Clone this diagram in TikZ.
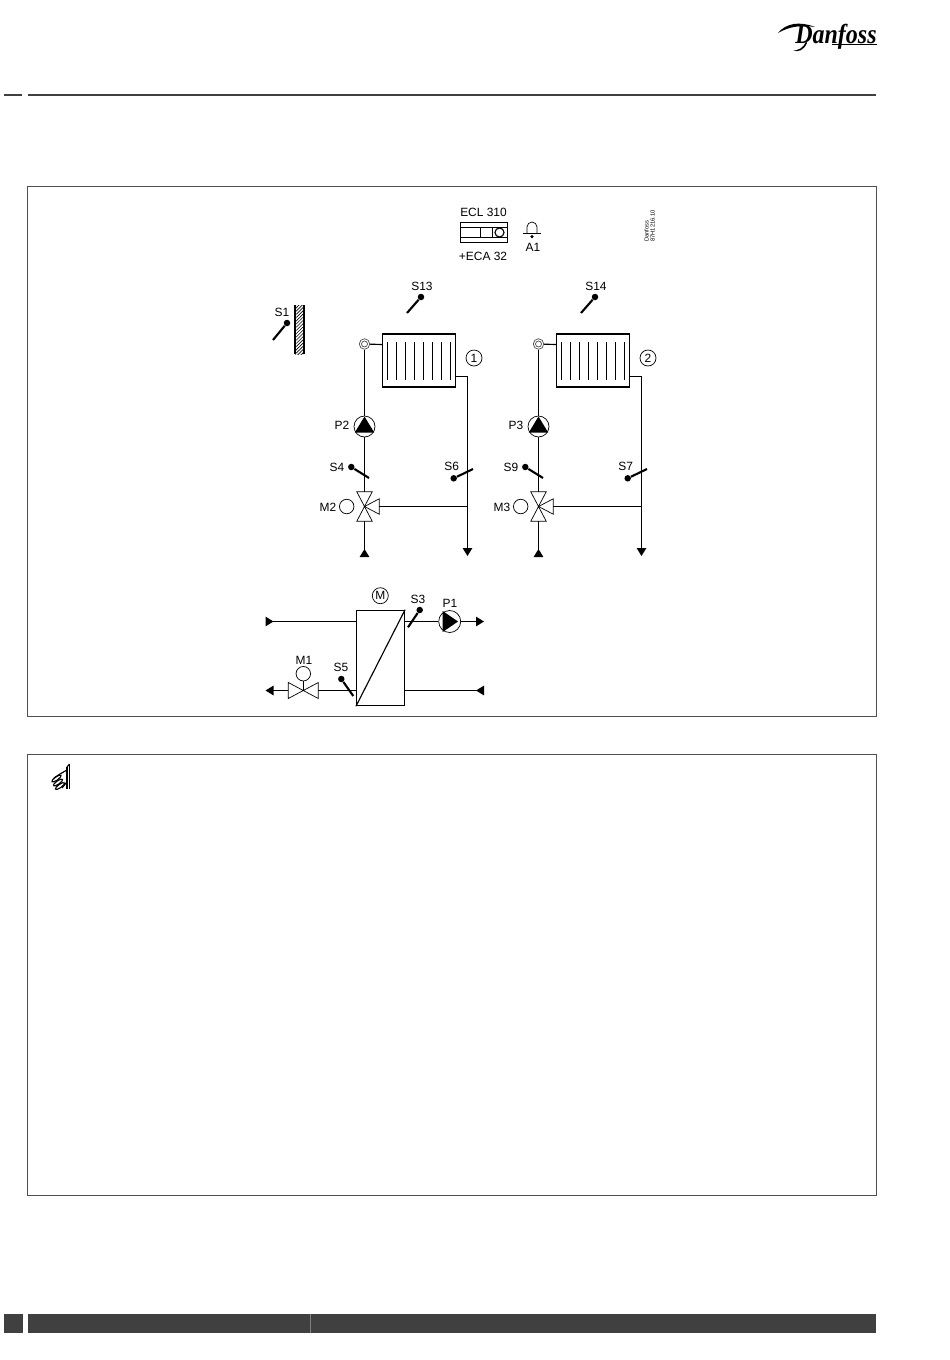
\documentclass[tikz,border=0pt]{standalone}
\usepackage{fontspec}
\setmainfont{Liberation Sans}
\newfontfamily\logofont{Liberation Serif}
\usetikzlibrary{arrows.meta, patterns.meta}
\definecolor{barGrey}{HTML}{404040}
\definecolor{frameGrey}{HTML}{505050}
\tikzset{
	pipe/.style = {line width = 0.65pt},
	thinline/.style = {line width = 0.4pt},
	sensor/.style = {line width = 1.2pt},
	sensordot/.style = {circle, fill, inner sep = 0pt, minimum size = 0.13cm},
	tag/.style = {font = \fontsize{6.8}{8}\selectfont, inner sep = 0pt},
	ring/.style = {circle, draw, thinline, inner sep = 0pt, minimum size = 0.29cm},
	numring/.style = {circle, draw, thinline, inner sep = 0pt, minimum size = 0.32cm, font = \fontsize{6.8}{8}\selectfont},
	pumpbody/.style = {circle, draw, thinline, inner sep = 0pt, minimum size = 0.42cm},
	tipdown/.style = {-{Triangle[length = 0.16cm, width = 0.19cm]}},
	tipback/.style = {-{Triangle[reversed, length = 0.16cm, width = 0.19cm]}},
	tipbackstart/.style = {{Triangle[reversed, length = 0.16cm, width = 0.19cm]}-}
}
\begin{document}
\begin{tikzpicture}[x = 0.02cm, y = -0.02cm]
	\useasboundingbox (0, 0) rectangle (950, 1360);

	% page furniture
	\fill[barGrey] (4, 94) rectangle (22, 96);
	\fill[barGrey] (28, 94) rectangle (876, 96);
	\fill[barGrey] (4, 1314) rectangle (23, 1333);
	\fill[barGrey] (28, 1314) rectangle (876, 1333);
	\draw[gray, line width = 0.6pt] (310.5, 1314) -- (310.5, 1333);
	\draw[frameGrey, thinline] (27.5, 186.5) rectangle (876.5, 716.5);
	\draw[frameGrey, thinline] (27.5, 754.5) rectangle (876.5, 1195.5);

	% logo
	\node[anchor = base east, inner sep = 0pt, yscale = 1.2, xscale = 1.05, font = \logofont\fontsize{13}{14}\bfseries\itshape\selectfont] (logo) at (877, 43) {Danfoss};
	\fill (778, 33) .. controls (786, 23) and (800, 21) .. (815, 27) .. controls (802, 25) and (790, 26) .. (778, 33);
	\fill (793, 50) .. controls (798, 51) and (803, 48) .. (806, 42) -- (807, 43) .. controls (804, 50) and (798, 53) .. (793, 50);
	\draw[line width = 0.7pt] (832, 44.5) -- (877, 44.5);

	% pointing hand
	\draw[pipe] (67, 767) -- (67, 789);
	\draw[pipe] (69.5, 764) -- (69.5, 789);
	\draw[pipe] (67, 767) -- (69.5, 764);
	\draw[pipe] (67, 770) -- (60, 774) -- (54, 778);
	\draw[pipe] (67, 782) -- (62, 788);
	\foreach \fx/\fy in {56.5/778.5, 58/782.5, 60/786}{
		\draw[pipe, rotate around = {35 : (\fx, \fy)}] (\fx, \fy) ellipse [x radius = 5.5, y radius = 1.7];
	}

	% controller and alarm
	\node[tag] (eclLabel) at (483.5, 212) {ECL 310};
	\node[tag] (ecaLabel) at (483, 256) {+ECA 32};
	\draw[pipe] (460.5, 222.5) rectangle (507.5, 242.5);
	\draw[pipe] (460.5, 227.5) -- (507.5, 227.5);
	\draw[pipe] (460.5, 237.5) -- (507.5, 237.5);
	\draw[pipe] (480.5, 227.5) -- (480.5, 237.5);
	\draw[pipe] (492.5, 227.5) -- (492.5, 237.5);
	\draw[pipe] (499.5, 232.5) circle [radius = 4.5];

	\draw[thinline] (527, 233) -- (527, 227) arc [start angle = 180, end angle = 360, radius = 5] -- (537, 233);
	\draw[pipe] (523, 233.5) -- (541, 233.5);
	\node[sensordot, minimum size = 0.07cm] (alarmDot) at (532, 236.5) {};
	\node[tag] (alarmLabel) at (533, 247) {A1};

	\node[rotate = 90, anchor = north west, align = left, inner sep = 0pt, font = \fontsize{3.3}{3.4}\selectfont] (drawingRef) at (644, 242) {Danfoss\\87H1216.10};

	% outdoor sensor
	\fill[pattern = {Lines[angle = 45, distance = 1.3pt, line width = 0.35pt]}] (295, 305) rectangle (304, 354);
	\draw[line width = 0.9pt] (295, 305) -- (295, 354);
	\draw[pipe] (304, 305) -- (304, 354);
	\node[tag] (s1Label) at (282, 312) {S1};
	\node[sensordot] (s1) at (287, 323) {};
	\coordinate (s1End) at (273, 340);
	\draw[sensor] (s1) -- (s1End);

	% the two heating circuits
	\foreach \n/\dx/\roomName/\pumpName/\flowName/\motorName/\returnName in {1/0/S13/P2/S4/M2/S6, 2/174/S14/P3/S9/M3/S7}{
		\begin{scope}[shift = {(\dx, 0)}]
			\node[tag] (roomLabel\n) at (422, 286) {\roomName};
			\node[sensordot] (room\n) at (421, 297) {};
			\coordinate (roomEnd\n) at (407, 313);
			\draw[sensor] (room\n) -- (roomEnd\n);

			\node[draw, pipe, minimum width = 1.47cm, minimum height = 1.06cm, inner sep = 0pt] (rad\n) at (419, 360.5) {};
			\foreach \f in {0,...,7}{
				\draw[pipe] (387.5 + 9 * \f, 342) -- (387.5 + 9 * \f, 380);
			}
			\node[numring] (num\n) at (474, 358) {\n};

			\node[circle, draw, black!70, thinline, inner sep = 0pt, minimum size = 0.21cm] (vent\n) at (364.5, 344) {};
			\draw[black!70, thinline] (vent\n) circle [radius = 3];
			\coordinate (ventIn\n) at (382, 344.5);
			\draw[pipe] (vent\n) -- (ventIn\n);

			\node[pumpbody] (pump\n) at (364.5, 426.5) {};
			\fill (pump\n) ++(0, -10) -- ++(9.7, 16) -- ++(-19.4, 0) -- cycle;
			\node[tag] (pumpLabel\n) at (342, 425) {\pumpName};

			\coordinate (valve\n) at (364.5, 506.5);
			\draw[thinline] (valve\n) -- ++(-7.7, -14.7) -- ++(15.4, 0) -- cycle;
			\draw[thinline] (valve\n) -- ++(-7.7, 14.7) -- ++(15.4, 0) -- cycle;
			\draw[thinline] (valve\n) -- ++(14.7, -7.7) -- ++(0, 15.4) -- cycle;
			\node[ring] (motor\n) at (346.7, 506.5) {};
			\node[tag] (motorLabel\n) at (328, 507) {\motorName};

			\coordinate (valveTop\n) at (364.5, 492);
			\coordinate (valveLow\n) at (364.5, 521.4);
			\coordinate (valveSide\n) at (379.2, 506.5);
			\coordinate (supply\n) at (364.5, 557);
			\coordinate (ret\n) at (455.7, 376.5);
			\coordinate (drop\n) at (467.5, 556);

			\draw[pipe] (vent\n) -- (pump\n);
			\draw[pipe] (pump\n) -- (valveTop\n);
			\draw[pipe, tipback] (valveLow\n) -- (supply\n);
			\draw[pipe, tipdown] (ret\n) -| (drop\n);
			\draw[pipe] (valveSide\n) -- (valveSide\n -| drop\n);

			\node[tag] (flowLabel\n) at (337, 467) {\flowName};
			\node[sensordot] (flow\n) at (351.3, 467) {};
			\coordinate (flowEnd\n) at (369, 478);
			\draw[sensor] (flow\n) -- (flowEnd\n);

			\node[tag] (returnLabel\n) at (451.7, 466.7) {\returnName};
			\node[sensordot] (return\n) at (453.7, 478.3) {};
			\coordinate (returnEnd\n) at (473, 469);
			\draw[sensor] (return\n) -- (returnEnd\n);
		\end{scope}
	}

	% heat exchanger
	\node[draw, pipe, minimum width = 0.96cm, minimum height = 1.91cm, inner sep = 0pt] (hex) at (380.5, 658) {};
	\draw[pipe] (hex.south west) -- (hex.north east);
	\node[numring] (hexLabel) at (380.3, 595.7) {M};

	\coordinate (primaryIn) at (265.5, 621.5);
	\coordinate (secondaryOut) at (484, 621.5);
	\coordinate (secondaryIn) at (484, 690.5);
	\coordinate (primaryOut) at (265.5, 690.5);
	\coordinate (hexTopL) at (356.5, 621.5);
	\coordinate (hexTopR) at (404.5, 621.5);
	\coordinate (hexLowL) at (356.5, 690.5);
	\coordinate (hexLowR) at (404.5, 690.5);
	\coordinate (m1ValveL) at (288.3, 690.5);
	\coordinate (m1ValveR) at (318.3, 690.5);
	\coordinate (m1Valve) at (303.3, 690.5);

	\draw[pipe, tipbackstart] (primaryIn) -- (hexTopL);
	\node[pumpbody, minimum size = 0.44cm] (pump0) at (449.7, 621.5) {};
	\fill (442.7, 611) -- (458, 621.5) -- (442.7, 632) -- cycle;
	\node[tag] (pumpLabel0) at (450, 603) {P1};
	\draw[pipe] (hexTopR) -- (pump0);
	\draw[pipe, tipdown] (pump0) -- (secondaryOut);
	\draw[pipe, tipback] (hexLowR) -- (secondaryIn);

	\draw[thinline] (m1Valve) -- ++(-15, -8) -- ++(0, 16) -- cycle;
	\draw[thinline] (m1Valve) -- ++(15, -8) -- ++(0, 16) -- cycle;
	\node[ring] (motor0) at (303.3, 673.7) {};
	\node[tag] (motorLabel0) at (304, 660) {M1};
	\draw[pipe] (motor0) -- (m1Valve);
	\draw[pipe] (m1ValveR) -- (hexLowL);
	\draw[pipe, tipdown] (m1ValveL) -- (primaryOut);

	\node[tag] (s3Label) at (418, 599) {S3};
	\node[sensordot] (s3) at (419.7, 610) {};
	\coordinate (s3End) at (408, 627.3);
	\draw[sensor] (s3) -- (s3End);

	\node[tag] (s5Label) at (341, 667) {S5};
	\node[sensordot] (s5) at (341.3, 679) {};
	\coordinate (s5End) at (353.3, 696);
	\draw[sensor] (s5) -- (s5End);
\end{tikzpicture}
\end{document}
